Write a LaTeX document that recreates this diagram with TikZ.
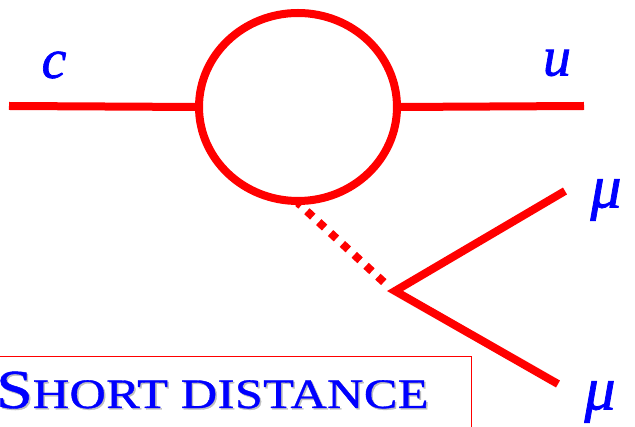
\documentclass[tikz,border=0pt]{standalone}
\usepackage{fontspec}
\setmainfont{Liberation Serif}
\newfontfamily\labfont[FakeBold=1.2]{Liberation Serif}
\newfontfamily\titlefont[FakeBold=0.8,LetterSpace=1]{Liberation Serif}
\usetikzlibrary{shapes.geometric}
\definecolor{fermion}{RGB}{255,0,0}
\definecolor{labelblue}{RGB}{0,0,255}
\tikzset{
  line/.style={draw=fermion,line width=8pt},
  dotline/.style={draw=fermion,line width=8pt,dash pattern=on 8pt off 8.1pt,dash phase=4pt},
  lab/.style={text=labelblue,inner sep=0pt,font=\labfont\fontsize{56}{60}\selectfont\itshape},
  mulab/.style={text=labelblue,inner sep=0pt,font=\labfont\fontsize{62}{66}\selectfont\itshape},
  titletext/.style={inner sep=0pt,anchor=base west,xscale=1.195}
}
\newcommand{\shorttitle}{\titlefont{\fontsize{55}{60}\selectfont S}{\fontsize{42}{46}\selectfont HORT DISTANCE}}
\begin{document}
\begin{tikzpicture}[x=1pt,y=-1pt]
\useasboundingbox (0,0) rectangle (635,427);
\clip (0,0) rectangle (635,427);
\node[ellipse,line,minimum width=198pt,minimum height=188pt,inner sep=0pt,outer sep=0pt] (loop) at (298,107) {};
\coordinate (cin) at (9,106);
\coordinate (uout) at (584,106);
\coordinate (vertex) at (395,291);
\coordinate (dotstart) at (298,203);
\coordinate (dotend) at (388,286);
\coordinate (mu1) at (565,191);
\coordinate (mu2) at (558,384);
\draw[line] (cin) -- (loop.west);
\draw[line] (loop.east) -- (uout);
\draw[dotline] (dotstart) -- (dotend);
\draw[line,line join=miter] (mu1) -- (vertex) -- (mu2);
\node[lab] (clabel) at (54,65) {c};
\node[lab] (ulabel) at (557,63) {u};
\node[mulab] (m1label) at (606,200) {μ};
\node[mulab] (m2label) at (600,402) {μ};
\draw[fermion,line width=1.5pt] (-5,356.5) rectangle (471.5,440);
\node[titletext,text=black!25] (titleshadow) at (-2.5,409.5) {\shorttitle};
\node[titletext,text=labelblue] (title) at (-4,408) {\shorttitle};
\end{tikzpicture}
\end{document}
